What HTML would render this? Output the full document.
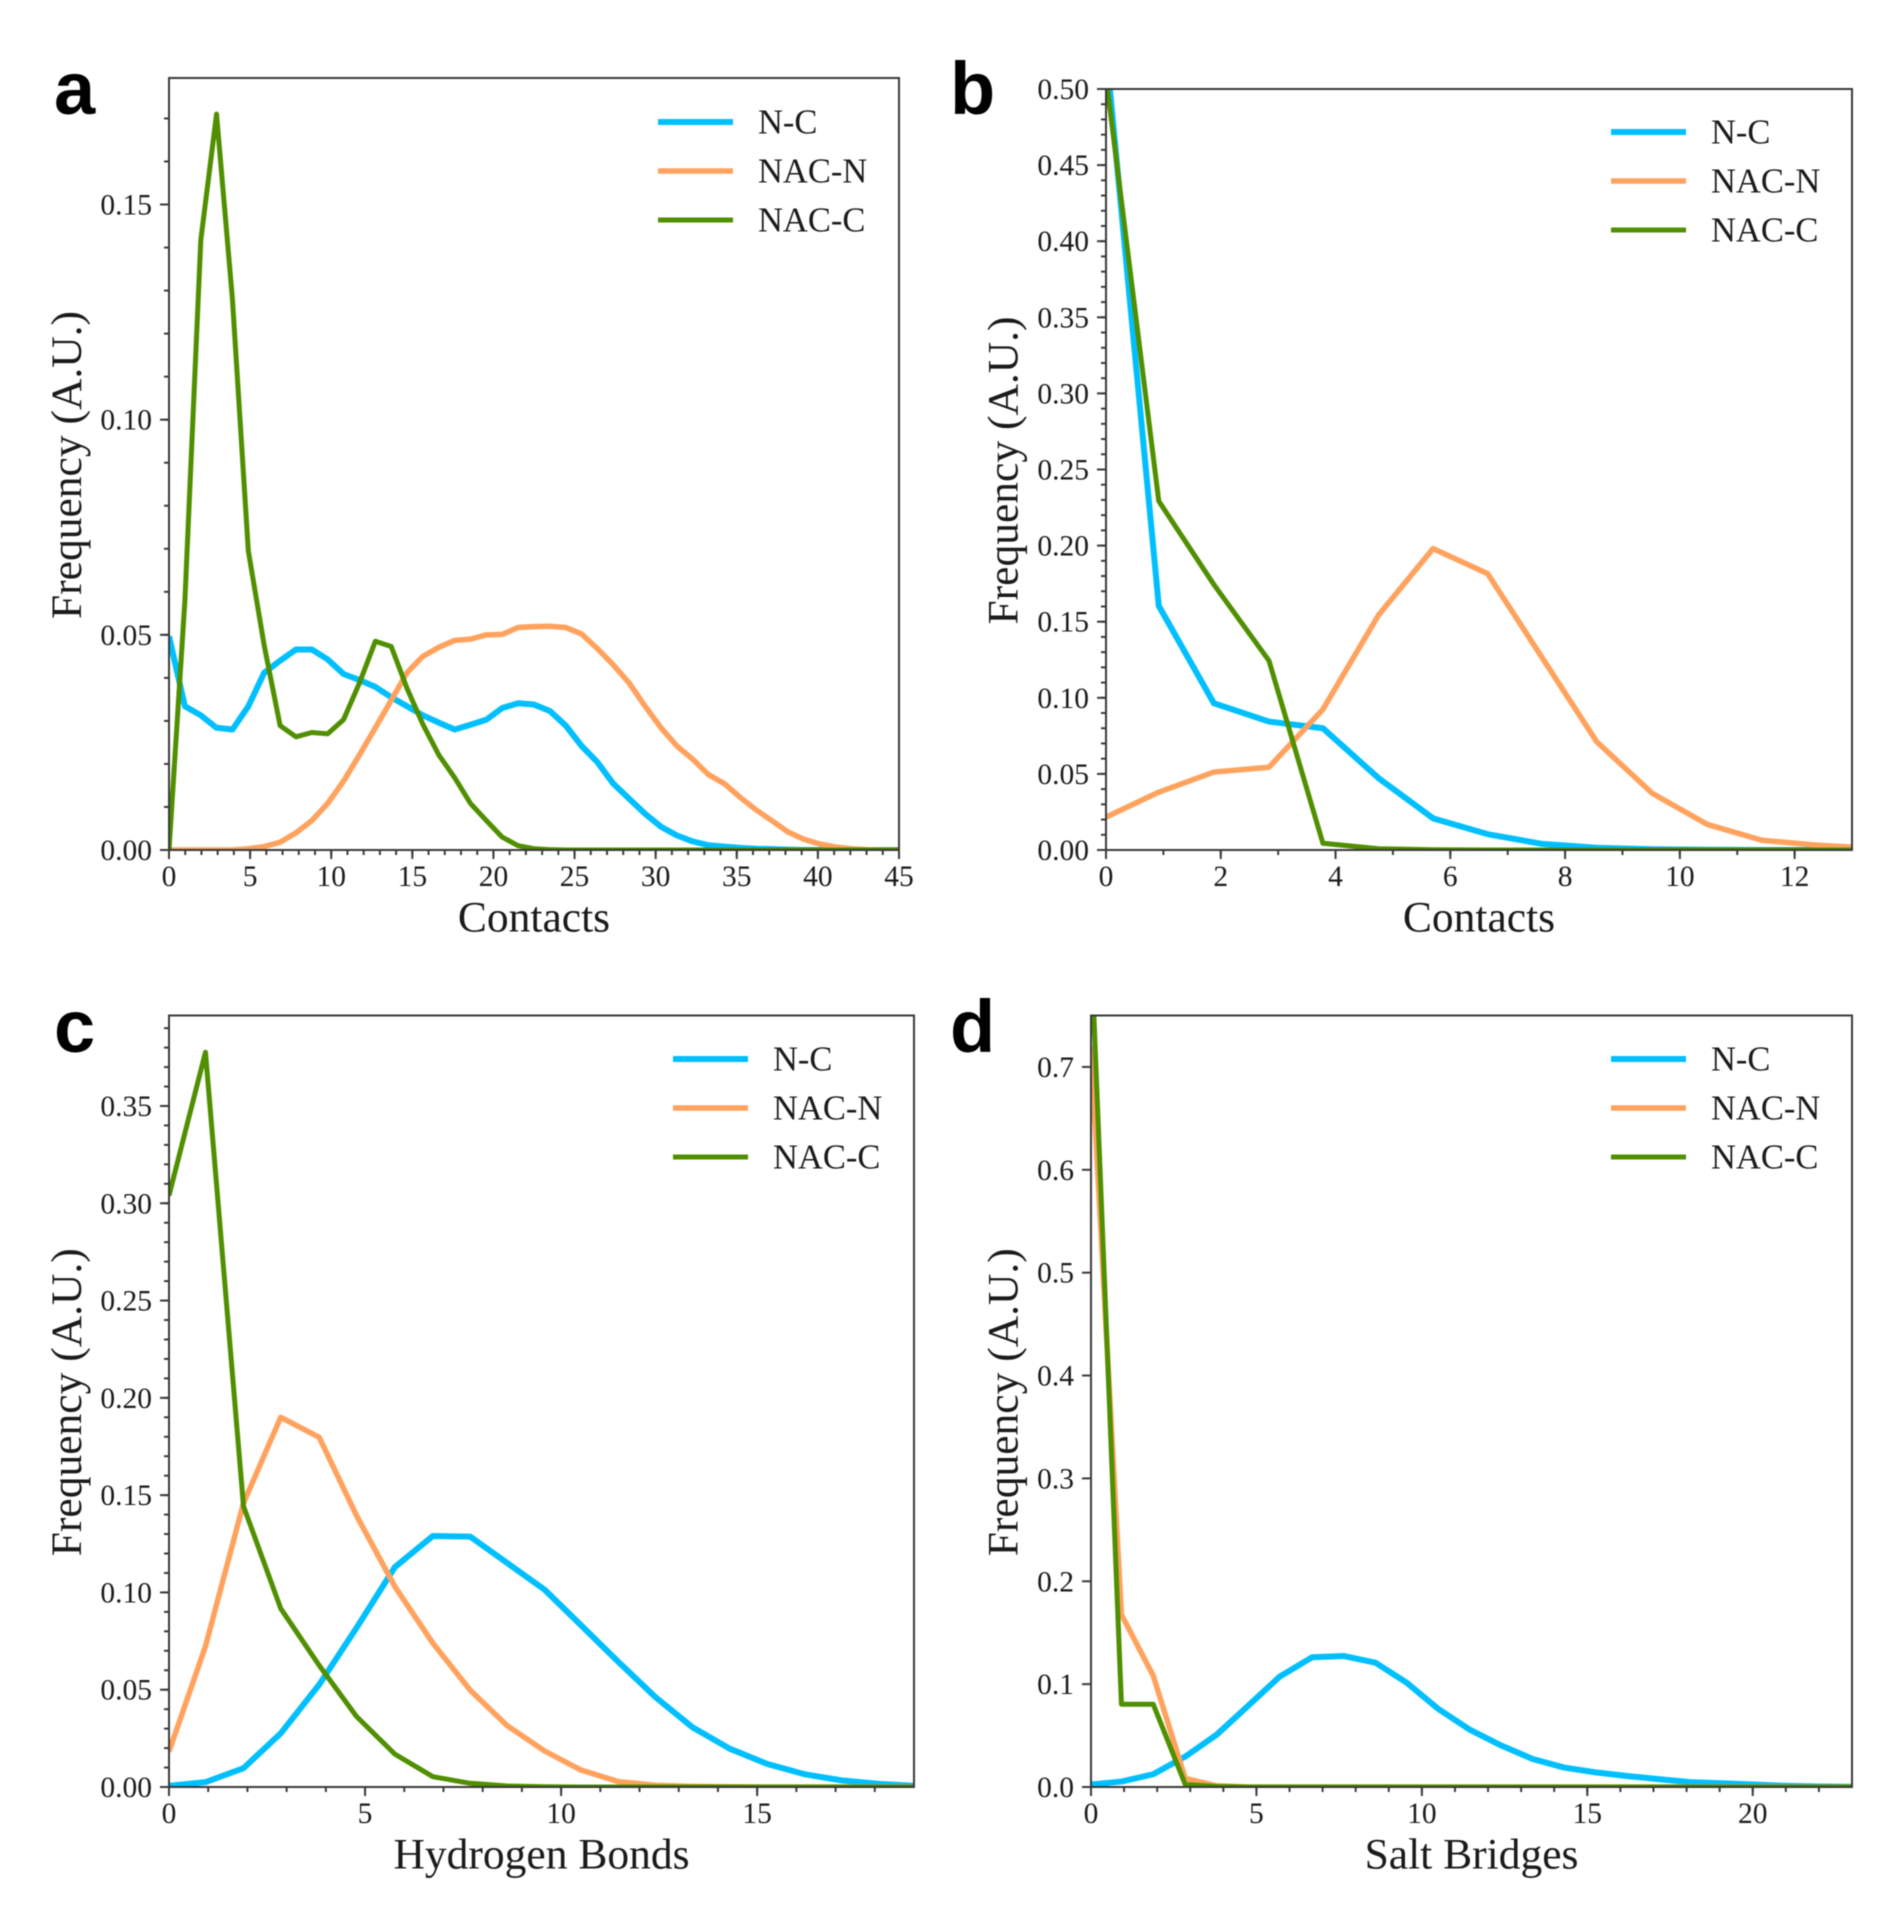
<!DOCTYPE html>
<html lang="en">
<head>
<meta charset="utf-8">
<title>Contact, hydrogen bond and salt bridge frequency distributions</title>
<style>
html,body{margin:0;padding:0;background:#fff;width:1888px;height:1910px;overflow:hidden}
svg{display:block;filter:blur(0.6px)}
text{font-family:"Liberation Serif",serif;fill:#1a1a1a}
.letter{font-family:"Liberation Sans",sans-serif;font-weight:bold;fill:#000}
</style>
</head>
<body>
<svg id="figure" xmlns="http://www.w3.org/2000/svg" width="1888" height="1910" viewBox="0 0 1888 1910"></svg>
<script>
// Legend / series names
const seriesNames = ["N-C", "NAC-N", "NAC-C"];

// Panel a
const binsA = [0,0.98,1.96,2.93,3.91,4.89,5.87,6.85,7.83,8.8,9.78,10.76,11.74,12.72,13.7,14.67,15.65,16.63,17.61,18.59,19.57,20.54,21.52,22.5,23.48,24.46,25.43,26.41,27.39,28.37,29.35,30.33,31.3,32.28,33.26,34.24,35.22,36.2,37.17,38.15,39.13,40.11,41.09,42.07,43.04,44.02,45];
const ncA = [.0497,.0334,.0313,.0284,.028,.0334,.0412,.044,.0466,.0466,.0443,.0409,.0395,.0379,.0355,.0334,.0313,.0296,.028,.0291,.0303,.033,.0341,.0338,.0323,.0289,.0242,.0204,.0154,.0119,.0084,.0054,.0034,.002,.0011,.0008,.0005,.0003,.0002,.0001,0,0,0,0,0,0,0];
const nacnA = [0,0,0,0,0,.0003,.0008,.0018,.004,.0068,.0108,.016,.0221,.0284,.0348,.0412,.045,.0471,.0487,.049,.05,.0501,.0517,.0519,.052,.0517,.0502,.0468,.043,.0388,.0334,.0284,.0242,.0211,.0175,.0154,.0122,.0093,.0068,.0042,.0025,.0014,.0007,.0003,.0001,0,0];
const naccA = [0,.058,.1417,.171,.128,.0695,.0475,.0289,.0263,.0273,.027,.0303,.0388,.0485,.0473,.0376,.0292,.0221,.0168,.0108,.0068,.003,.001,.0003,.0001,0,0,0,0,0,0,0,0,0,0,0,0,0,0,0,0,0,0,0,0,0,0];
const xTicksA = ["0","5","10","15","20","25","30","35","40","45"];
const yTicksA = ["0.00","0.05","0.10","0.15"];

// Panel b
const binsB = [0,0.92,1.88,2.84,3.78,4.75,5.7,6.65,7.6,8.55,9.52,10.48,11.43,12.38,13.33];
const ncB = [.527,.1604,.0964,.0844,.08,.0472,.0208,.0104,.004,.0015,.0005,.0002,0,0,0];
const nacnB = [.0216,.038,.0512,.0544,.0924,.1544,.198,.1816,.1264,.0712,.0372,.0168,.0064,.0032,.0012];
const naccB = [.508,.2292,.1744,.1244,.0044,.0008,.0002,0,0,0,0,0,0,0,0];
const xTicksB = ["0","2","4","6","8","10","12"];
const yTicksB = ["0.00","0.05","0.10","0.15","0.20","0.25","0.30","0.35","0.40","0.45","0.50"];

// Panel c
const binsC = [0,0.93,1.9,2.85,3.83,4.78,5.76,6.73,7.68,8.62,9.58,10.5,11.45,12.4,13.35,14.3,15.25,16.2,17.15,18.1,19.05];
const ncC = [.0006,.0025,.0097,.0276,.0526,.0817,.113,.129,.1287,.1152,.1014,.0833,.0645,.0463,.0307,.0197,.0119,.0066,.0034,.0016,.0006];
const nacnC = [.0182,.0723,.1459,.19,.1797,.1396,.103,.0739,.0498,.0316,.0185,.0088,.0028,.0009,.0003,.0001,0,0,0,0,0];
const naccC = [.304,.3776,.1443,.0917,.0625,.0363,.0169,.0053,.0019,.0005,.0001,0,0,0,0,0,0,0,0,0,0];
const xTicksC = ["0","5","10","15"];
const yTicksC = ["0.00","0.05","0.10","0.15","0.20","0.25","0.30","0.35"];

// Panel d
const binsD = [0,0.92,1.88,2.85,3.8,4.75,5.7,6.68,7.65,8.6,9.55,10.5,11.45,12.4,13.35,14.3,15.25,16.2,17.15,18.1,19.05,20,20.95,21.9,22.85,23.8];
const ncD = [.0024,.0053,.0124,.0296,.0509,.079,.1072,.1261,.1273,.1208,.1012,.0758,.0557,.0403,.0272,.0189,.0142,.0107,.0077,.0047,.0036,.0024,.0012,.0006,.0002,.0001];
const nacnD = [.72,.1676,.1083,.0083,.0012,0,0,0,0,0,0,0,0,0,0,0,0,0,0,0,0,0,0,0,0,0];
const naccD = [.82,.0805,.0805,.0024,.0005,0,0,0,0,0,0,0,0,0,0,0,0,0,0,0,0,0,0,0,0,0];
const xTicksD = ["0","5","10","15","20"];
const yTicksD = ["0.0","0.1","0.2","0.3","0.4","0.5","0.6","0.7"];

const SVGNS = "http://www.w3.org/2000/svg";
const root = document.getElementById("figure");
const seriesColors = ["#00bfff", "#ffa25e", "#4f8f00"];
const seriesWidths = [6, 5.5, 5];
const AXIS = "#3a3a3a";

function mk(tag, parent) {
  const el = document.createElementNS(SVGNS, tag);
  parent.appendChild(el);
  return el;
}
function line(parent, x1, y1, x2, y2, stroke, w) {
  const el = mk("line", parent);
  el.setAttribute("x1", x1);
  el.setAttribute("y1", y1);
  el.setAttribute("x2", x2);
  el.setAttribute("y2", y2);
  el.setAttribute("stroke", stroke);
  el.setAttribute("stroke-width", w);
  return el;
}
function label(parent, str, x, y, size, anchor) {
  const el = mk("text", parent);
  el.setAttribute("x", x);
  el.setAttribute("y", y);
  el.setAttribute("font-size", size);
  el.setAttribute("text-anchor", anchor);
  el.textContent = str;
  return el;
}

function drawPanel(p) {
  const g = mk("g", root);
  
  
  const sx = v => p.left + (v - 0) / p.xMax * (p.right - p.left);
  const sy = v => p.bottom - v / p.yMax * (p.bottom - p.top);

  // panel letter
  const letter = label(g, p.id, p.letterX, p.letterY, 74, "start");
  letter.setAttribute("class", "letter");
  
  

  // minor ticks
  const minorG = mk("g", g);
  
  
  for (let k = 1; k * p.xMinor < p.xMax; k++) {
    const x = sx(k * p.xMinor);
    line(minorG, x, p.bottom, x, p.bottom + 5, AXIS, 2);
  }
  if (p.yMinor) {
    for (let k = 1; k * p.yMinor < p.yMax; k++) {
      const y = sy(k * p.yMinor);
      line(minorG, p.left, y, p.left - 5, y, AXIS, 2);
    }
  }

  // x ticks
  p.xTicks.forEach(t => {
    const x = sx(parseFloat(t));
    const tick = line(g, x, p.bottom, x, p.bottom + 9, AXIS, 2);
    
    
    const lab = label(g, t, x, p.bottom + 36, 29.5, "middle");
    
    
  });
  // y ticks
  p.yTicks.forEach(t => {
    const y = sy(parseFloat(t));
    const tick = line(g, p.left, y, p.left - 9, y, AXIS, 2);
    
    
    const lab = label(g, t, p.left - 17, y + 10, 29.5, "end");
    
    
  });

  // axis titles
  const xt = label(g, p.xTitle, (p.left + p.right) / 2, p.xTitleY, 43.5, "middle");
  
  
  const yt = label(g, "Frequency (A.U.)", 0, 0, 43.5, "middle");
  yt.setAttribute("transform", "translate(" + p.yTitleX + "," + ((p.top + p.bottom) / 2 + 1) + ") rotate(-90)");
  
  

  // clip
  const clip = mk("clipPath", g);
  clip.setAttribute("id", "clip-" + p.id);
  const cr = mk("rect", clip);
  cr.setAttribute("x", p.left);
  cr.setAttribute("y", p.top);
  cr.setAttribute("width", p.right - p.left);
  cr.setAttribute("height", p.bottom - p.top);

  // series
  const sg = mk("g", g);
  sg.setAttribute("clip-path", "url(#clip-" + p.id + ")");
  
  
  p.series.forEach((vals, i) => {
    const pl = mk("polyline", sg);
    pl.setAttribute("points", vals.map((v, j) => sx(p.bins[j]).toFixed(2) + "," + sy(v).toFixed(2)).join(" "));
    pl.setAttribute("fill", "none");
    pl.setAttribute("stroke", seriesColors[i]);
    pl.setAttribute("stroke-width", seriesWidths[i]);
    pl.setAttribute("stroke-linejoin", "round");
    
    
  });

  // frame
  const frame = mk("rect", g);
  frame.setAttribute("x", p.left);
  frame.setAttribute("y", p.top);
  frame.setAttribute("width", p.right - p.left);
  frame.setAttribute("height", p.bottom - p.top);
  frame.setAttribute("fill", "none");
  frame.setAttribute("stroke", AXIS);
  frame.setAttribute("stroke-width", 2);
  
  

  // legend
  const lg = mk("g", g);
  
  
  seriesNames.forEach((name, i) => {
    const y = p.legendY + i * 49;
    const swatch = line(lg, p.legendX, y, p.legendX + 75, y, seriesColors[i], seriesWidths[i]);
    
    
    const t = label(lg, name, p.legendX + 100, y + p.legendTextDy, 34.5, "start");
    
    
  });
}

drawPanel({id:"a", left:169, right:899, top:78, bottom:850, xMax:45, yMax:0.1794,
  xMinor:1, yMinor:0.01, bins:binsA, series:[ncA,nacnA,naccA], xTicks:xTicksA, yTicks:yTicksA,
  xTitle:"Contacts", xTitleY:931.5, yTitleX:81, letterX:54, letterY:114, legendX:658, legendY:122, legendTextDy:11.5});
drawPanel({id:"b", left:1106, right:1852, top:89, bottom:850, xMax:13, yMax:0.5,
  xMinor:1, yMinor:0.01, bins:binsB, series:[ncB,nacnB,naccB], xTicks:xTicksB, yTicks:yTicksB,
  xTitle:"Contacts", xTitleY:931.5, yTitleX:1017.5, letterX:950, letterY:114, legendX:1611, legendY:132, legendTextDy:11.5});
drawPanel({id:"c", left:169, right:914, top:1015.5, bottom:1787, xMax:19, yMax:0.3965,
  xMinor:1, yMinor:0.01, bins:binsC, series:[ncC,nacnC,naccC], xTicks:xTicksC, yTicks:yTicksC,
  xTitle:"Hydrogen Bonds", xTitleY:1868.5, yTitleX:81, letterX:54, letterY:1052, legendX:673, legendY:1059, legendTextDy:11.5});
drawPanel({id:"d", left:1091, right:1852, top:1015.5, bottom:1787, xMax:23, yMax:0.75,
  xMinor:1, yMinor:0, bins:binsD, series:[ncD,nacnD,naccD], xTicks:xTicksD, yTicks:yTicksD,
  xTitle:"Salt Bridges", xTitleY:1868.5, yTitleX:1017.5, letterX:950, letterY:1052, legendX:1611, legendY:1059, legendTextDy:11.5});
</script>
</body>
</html>
